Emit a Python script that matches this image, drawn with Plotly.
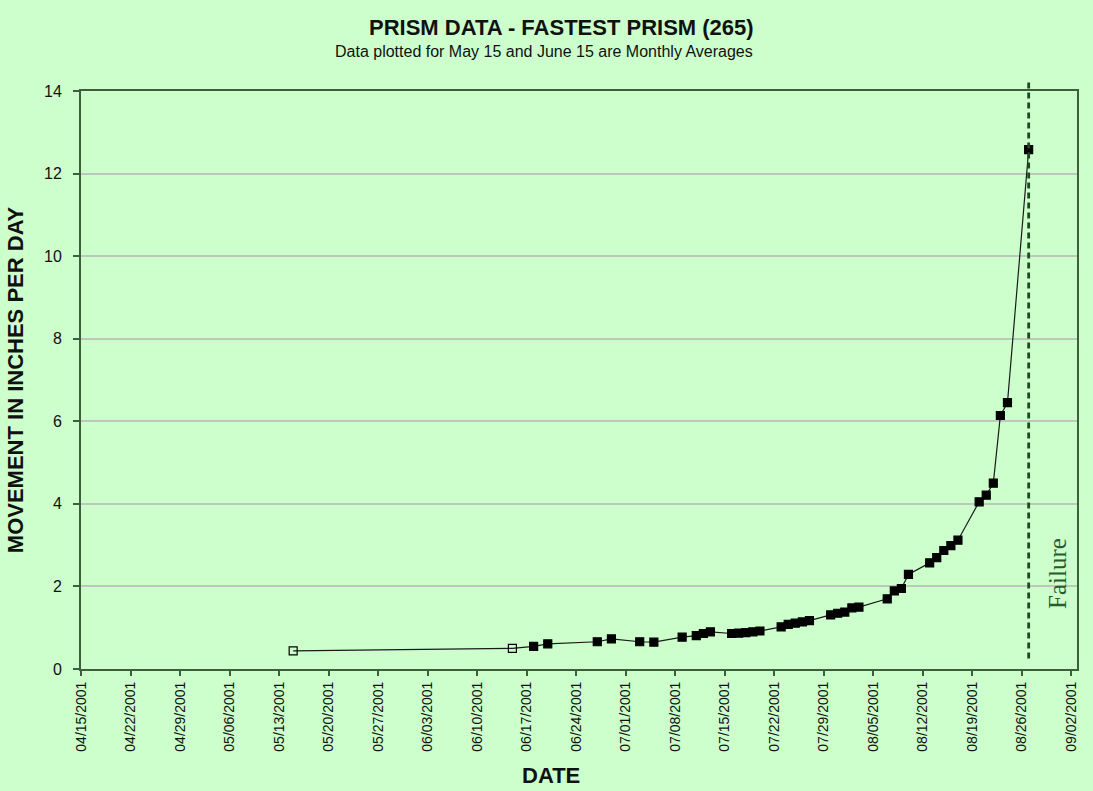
import plotly.graph_objects as go

# ---- data ----
dates = [
    "2001-05-15", "2001-06-15", "2001-06-18", "2001-06-20", "2001-06-27",
    "2001-06-29", "2001-07-03", "2001-07-05", "2001-07-09", "2001-07-11",
    "2001-07-12", "2001-07-13", "2001-07-16", "2001-07-17", "2001-07-18",
    "2001-07-19", "2001-07-20", "2001-07-23", "2001-07-24", "2001-07-25",
    "2001-07-26", "2001-07-27", "2001-07-30", "2001-07-31", "2001-08-01",
    "2001-08-02", "2001-08-03", "2001-08-07", "2001-08-08", "2001-08-09",
    "2001-08-10", "2001-08-13", "2001-08-14", "2001-08-15", "2001-08-16",
    "2001-08-17", "2001-08-20", "2001-08-21", "2001-08-22", "2001-08-23",
    "2001-08-24", "2001-08-27",
]
movement = [
    0.44, 0.50, 0.55, 0.61, 0.66,
    0.73, 0.66, 0.65, 0.77, 0.81,
    0.86, 0.90, 0.86, 0.87, 0.88,
    0.90, 0.92, 1.02, 1.08, 1.11,
    1.14, 1.17, 1.31, 1.35, 1.38,
    1.48, 1.50, 1.70, 1.89, 1.95,
    2.29, 2.57, 2.70, 2.87, 2.99,
    3.12, 4.05, 4.21, 4.50, 6.14,
    6.45, 12.58,
]
monthly_avg_dates = ["2001-05-15", "2001-06-15"]
failure_date = "2001-08-27"

title_text = "PRISM DATA - FASTEST PRISM (265)"
subtitle_text = "Data plotted for May 15 and June 15 are Monthly Averages"
x_title = "DATE"
y_title = "MOVEMENT IN INCHES PER DAY"
y_ticks = [0, 2, 4, 6, 8, 10, 12, 14]

# ---- styling ----
BG = "#ccffcc"
AXIS = "#3d5e3d"
GRID = "#bcc8bc"
FONT = "Liberation Sans, Arial, sans-serif"
W, H = 1093, 791
ML, MR, MT, MB = 81, 16, 91, 122
PW, PH = W - ML - MR, H - MT - MB


def px(xp):
    return (xp - ML) / PW


def py(yp):
    return (H - MB - yp) / PH


symbols = ["square-open" if d in monthly_avg_dates else "square" for d in dates]

fig = go.Figure()
fig.add_trace(go.Scatter(
    x=dates, y=movement, mode="lines+markers",
    line=dict(color="#1a1a1a", width=1.2),
    marker=dict(symbol=symbols, size=8, color="#000000",
                line=dict(color="#000000", width=1.2)),
    showlegend=False, cliponaxis=False,
))

fig.add_shape(type="line", xref="x", yref="paper",
              x0=failure_date, x1=failure_date, y0=0.018, y1=1.016,
              line=dict(color="#1f4a1f", width=2.8, dash="6px,4px"))

annotations = [
    dict(x=px(1057), y=py(574), xref="paper", yref="paper", text="Failure",
         showarrow=False, textangle=-90, xanchor="center", yanchor="middle",
         font=dict(family="Liberation Serif, Times New Roman, serif",
                   size=25, color="#2c5a2c")),
    dict(text="<b>" + title_text + "</b>", x=px(561), y=py(27),
         xref="paper", yref="paper", showarrow=False,
         xanchor="center", yanchor="middle",
         font=dict(family=FONT, size=22, color="#111111")),
    dict(text=subtitle_text, x=px(544), y=py(52),
         xref="paper", yref="paper", showarrow=False,
         xanchor="center", yanchor="middle",
         font=dict(family=FONT, size=16, color="#111111")),
    dict(text="<b>" + x_title + "</b>", x=px(551), y=py(775),
         xref="paper", yref="paper", showarrow=False,
         xanchor="center", yanchor="middle",
         font=dict(family=FONT, size=22, color="#111111")),
]

fig.update_layout(
    width=W, height=H,
    paper_bgcolor=BG, plot_bgcolor=BG,
    margin=dict(l=ML, r=MR, t=MT, b=MB),
    font=dict(family=FONT, color="#111111"),
    annotations=annotations,
)

fig.update_xaxes(
    type="date",
    range=["2001-04-15", "2001-09-02 20:00"],
    tick0="2001-04-15", dtick=7 * 24 * 3600 * 1000,
    tickformat="%m/%d/%Y", tickangle=-90,
    tickfont=dict(size=14, family=FONT, color="#111111"),
    ticks="outside", ticklen=5, tickcolor=AXIS, tickwidth=1.5,
    showline=True, linecolor=AXIS, linewidth=2, mirror=True,
    showgrid=False, zeroline=False,
)
fig.update_yaxes(
    range=[0, 14], tickvals=y_ticks,
    tickfont=dict(size=16, family=FONT, color="#111111"),
    ticks="outside", ticklen=6, tickcolor=AXIS, tickwidth=1.5,
    ticklabelstandoff=8,
    showline=True, linecolor=AXIS, linewidth=2, mirror=True,
    showgrid=True, gridcolor=GRID, gridwidth=1.5, zeroline=False,
    title=dict(text="<b>" + y_title + "</b>", font=dict(size=22, family=FONT, color="#111111"),
               standoff=14),
)

fig.write_html("out.html", config={"displayModeBar": False},
               post_script="document.body.style.margin='0';document.body.style.padding='0';")
